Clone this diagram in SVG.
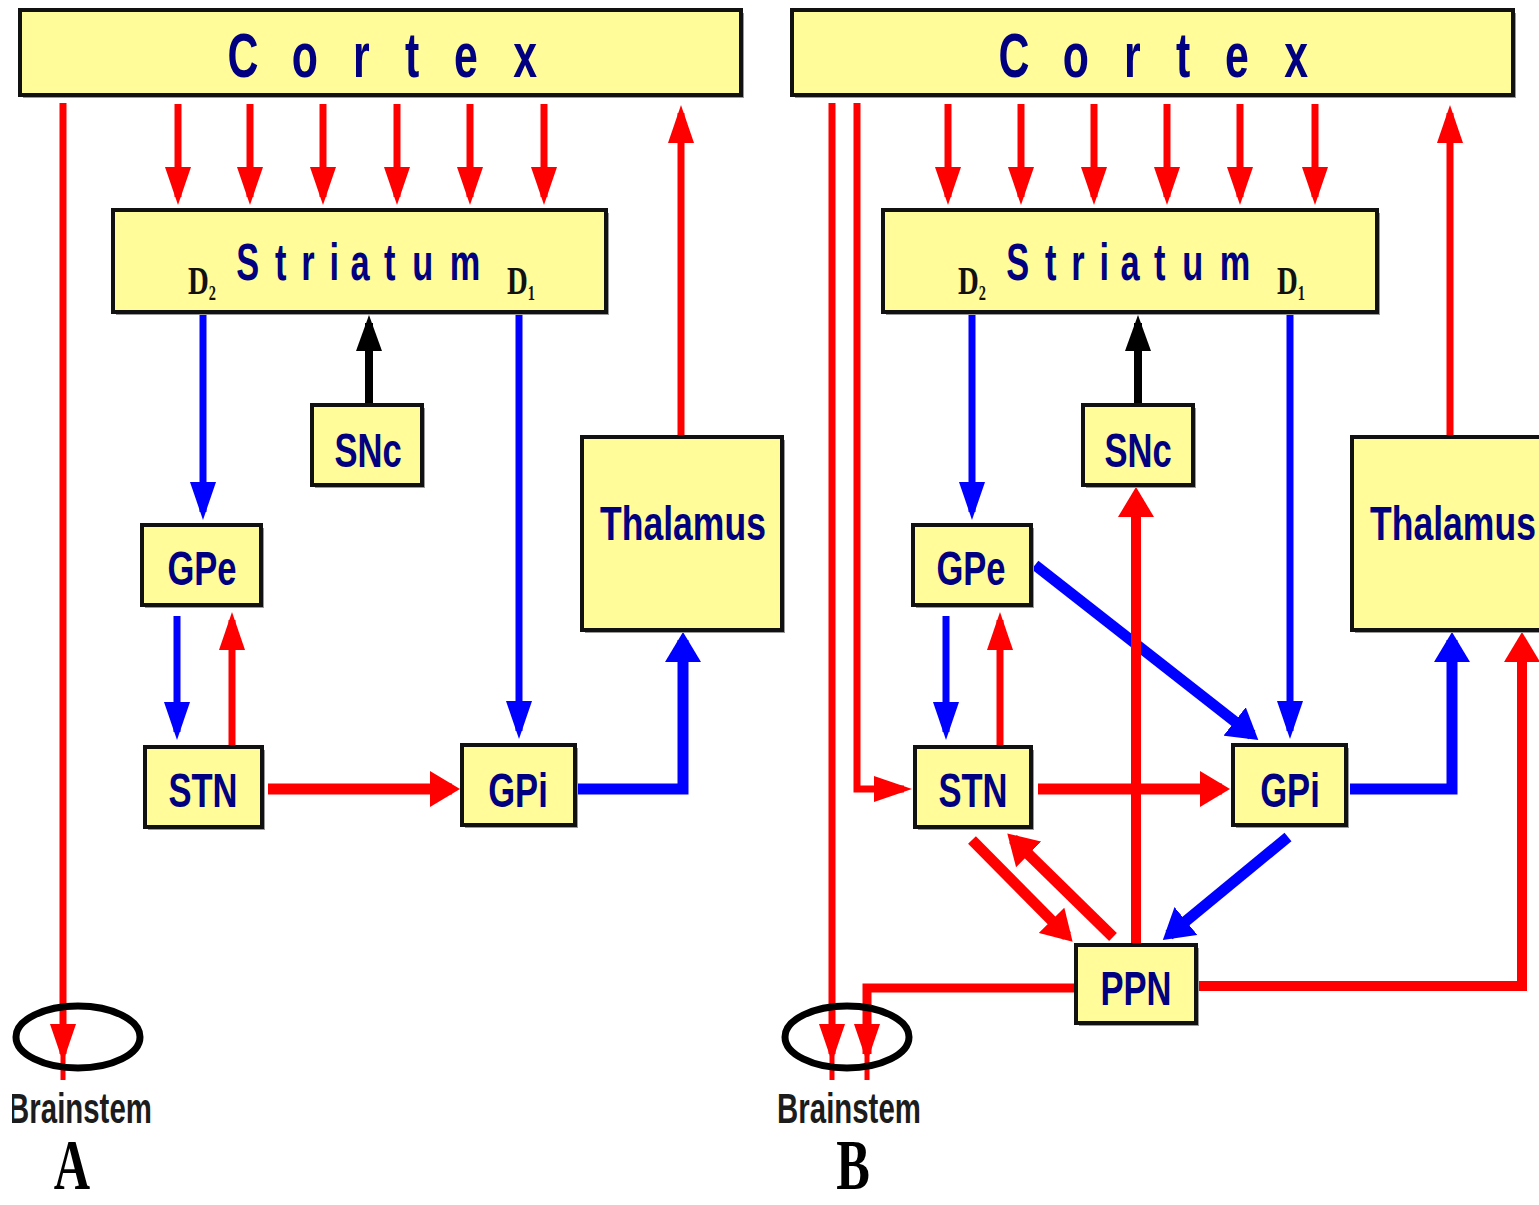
<svg xmlns="http://www.w3.org/2000/svg" width="1539" height="1205" viewBox="0 0 1539 1205">
<style>
.box{fill:#FFFC99;stroke:#111;stroke-width:4}
.sh{fill:#9a9a9a}
.lbl{font-family:"Liberation Sans",Arial,sans-serif;font-weight:bold;fill:#000080;text-anchor:middle}
.d{font-family:"Liberation Serif","Times New Roman",serif;font-weight:bold;fill:#111;font-size:40px}
.bs{font-family:"Liberation Sans",Arial,sans-serif;font-weight:bold;fill:#1c1c1c;text-anchor:middle;font-size:42px}
.pl{font-family:"Liberation Serif","Times New Roman",serif;font-weight:bold;fill:#000;text-anchor:middle;font-size:72px}
.r{fill:none;stroke:#FF0000;stroke-width:7}
.rt{fill:none;stroke:#FF0000;stroke-width:11}
.b{fill:none;stroke:#0000FF;stroke-width:7}
.bt{fill:none;stroke:#0000FF;stroke-width:11}
.k{fill:none;stroke:#000;stroke-width:8}
.ell{fill:none;stroke:#000;stroke-width:7}
</style>
<defs>
<marker id="hr" viewBox="0 0 38 26" refX="30" refY="13" markerWidth="38" markerHeight="26" orient="auto" markerUnits="userSpaceOnUse"><path d="M0,0 L38,13 L0,26 z" fill="#FF0000"/></marker>
<marker id="hb" viewBox="0 0 38 26" refX="30" refY="13" markerWidth="38" markerHeight="26" orient="auto" markerUnits="userSpaceOnUse"><path d="M0,0 L38,13 L0,26 z" fill="#0000FF"/></marker>
<marker id="hk" viewBox="0 0 36 26" refX="28" refY="13" markerWidth="36" markerHeight="26" orient="auto" markerUnits="userSpaceOnUse"><path d="M0,0 L36,13 L0,26 z" fill="#000"/></marker>
<marker id="hR" viewBox="0 0 30 36" refX="22" refY="18" markerWidth="30" markerHeight="36" orient="auto" markerUnits="userSpaceOnUse"><path d="M0,0 L30,18 L0,36 z" fill="#FF0000"/></marker>
<marker id="hB" viewBox="0 0 30 36" refX="22" refY="18" markerWidth="30" markerHeight="36" orient="auto" markerUnits="userSpaceOnUse"><path d="M0,0 L30,18 L0,36 z" fill="#0000FF"/></marker>
<clipPath id="clipA"><rect x="12" y="1080" width="200" height="60"/></clipPath>
</defs>
<rect width="1539" height="1205" fill="#fff"/>

<g id="connectors">
<!-- Panel A -->
<path class="r" d="M178,104 V197" marker-end="url(#hr)"/>
<path class="r" d="M250,104 V197" marker-end="url(#hr)"/>
<path class="r" d="M323,104 V197" marker-end="url(#hr)"/>
<path class="r" d="M397,104 V197" marker-end="url(#hr)"/>
<path class="r" d="M470,104 V197" marker-end="url(#hr)"/>
<path class="r" d="M544,104 V197" marker-end="url(#hr)"/>
<path class="r" d="M681,436 V113" marker-end="url(#hr)"/>
<path class="r" d="M63,103 V1054" marker-end="url(#hr)"/>
<path class="r" d="M63,1050 V1080" style="stroke-width:5"/>
<path class="b" d="M203,314 V512" marker-end="url(#hb)"/>
<path class="k" d="M369,404 V323" marker-end="url(#hk)"/>
<path class="b" d="M519,314 V731" marker-end="url(#hb)"/>
<path class="b" d="M177,616 V732" marker-end="url(#hb)"/>
<path class="r" d="M232,746 V620" marker-end="url(#hr)"/>
<path class="rt" d="M268,789 H452" marker-end="url(#hR)"/>
<path class="bt" d="M578,789 H683 V640" marker-end="url(#hB)"/>
<!-- Panel B -->
<path class="r" d="M948,104 V197" marker-end="url(#hr)"/>
<path class="r" d="M1021,104 V197" marker-end="url(#hr)"/>
<path class="r" d="M1094,104 V197" marker-end="url(#hr)"/>
<path class="r" d="M1167,104 V197" marker-end="url(#hr)"/>
<path class="r" d="M1240,104 V197" marker-end="url(#hr)"/>
<path class="r" d="M1315,104 V197" marker-end="url(#hr)"/>
<path class="r" d="M1450,436 V113" marker-end="url(#hr)"/>
<path class="r" d="M832,103 V1054" marker-end="url(#hr)"/>
<path class="r" d="M832,1050 V1080" style="stroke-width:5"/>
<path class="r" d="M857,103 V789 H904" marker-end="url(#hr)"/>
<path class="b" d="M972,314 V512" marker-end="url(#hb)"/>
<path class="k" d="M1138,404 V323" marker-end="url(#hk)"/>
<path class="b" d="M1290,314 V731" marker-end="url(#hb)"/>
<path class="b" d="M946,616 V732" marker-end="url(#hb)"/>
<path class="r" d="M1000,746 V620" marker-end="url(#hr)"/>
<path class="bt" d="M1035,565 L1252,735" marker-end="url(#hB)"/>
<path class="rt" d="M1038,789 H1222" marker-end="url(#hR)"/>
<path class="bt" d="M1350,789 H1452 V640" marker-end="url(#hB)"/>
<path class="rt" d="M1136,944 V495" style="stroke-width:10" marker-end="url(#hR)"/>
<path class="rt" d="M972,840 L1067,936" marker-end="url(#hR)"/>
<path class="rt" d="M1113,937 L1013,839" marker-end="url(#hR)"/>
<path class="bt" d="M1288,837 L1169,935" marker-end="url(#hB)"/>
<path class="rt" d="M1197,986 H1522 V640" style="stroke-width:10" marker-end="url(#hR)"/>
<path class="rt" d="M1075,988 H867 V1054" style="stroke-width:9" marker-end="url(#hr)"/>
<path class="r" d="M867,1050 V1080" style="stroke-width:5"/>
</g>

<!-- Panel A nodes -->
<g id="cortexA">
<rect class="sh" x="23" y="13" width="721" height="85"/>
<rect class="box" x="20" y="10" width="721" height="85"/>
<text class="lbl" transform="translate(383,77) scale(0.68,1)" font-size="63" x="-206 -115 -32 43 122 209" y="0">Cortex</text>
</g>
<g id="striatumA">
<rect class="sh" x="116" y="213" width="493" height="102"/>
<rect class="box" x="113" y="210" width="493" height="102"/>
<text class="lbl" transform="translate(360,280) scale(0.66,1)" font-size="52" x="-170 -120 -79 -39 0 45 95 159" y="0">Striatum</text>
<text class="d" transform="translate(188,294) scale(0.72,1)">D<tspan font-size="20" dy="6">2</tspan></text>
<text class="d" transform="translate(507,294) scale(0.72,1)">D<tspan font-size="20" dy="6">1</tspan></text>
</g>
<g id="sncA">
<rect class="sh" x="315" y="408" width="110" height="80"/>
<rect class="box" x="312" y="405" width="110" height="80"/>
<text class="lbl" transform="translate(368,467) scale(0.72,1)" font-size="48">SNc</text>
</g>
<g id="thalamusA">
<rect class="sh" x="585" y="440" width="200" height="193"/>
<rect class="box" x="582" y="437" width="200" height="193"/>
<text class="lbl" transform="translate(683,540) scale(0.74,1)" font-size="48">Thalamus</text>
</g>
<g id="gpeA">
<rect class="sh" x="145" y="528" width="119" height="80"/>
<rect class="box" x="142" y="525" width="119" height="80"/>
<text class="lbl" transform="translate(202,585) scale(0.72,1)" font-size="48">GPe</text>
</g>
<g id="stnA">
<rect class="sh" x="148" y="750" width="117" height="80"/>
<rect class="box" x="145" y="747" width="117" height="80"/>
<text class="lbl" transform="translate(203,807) scale(0.72,1)" font-size="48">STN</text>
</g>
<g id="gpiA">
<rect class="sh" x="465" y="748" width="113" height="80"/>
<rect class="box" x="462" y="745" width="113" height="80"/>
<text class="lbl" transform="translate(518,807) scale(0.72,1)" font-size="48">GPi</text>
</g>
<g id="brainstemA">
<ellipse class="ell" cx="78" cy="1037" rx="62" ry="31"/>
<g clip-path="url(#clipA)">
<text class="bs" transform="translate(80,1123) scale(0.7,1)">Brainstem</text>
</g>
</g>
<g id="labelA">
<text class="pl" transform="translate(72,1189) scale(0.7,1)">A</text>
</g>

<!-- Panel B nodes -->
<g id="cortexB">
<rect class="sh" x="795" y="13" width="721" height="85"/>
<rect class="box" x="792" y="10" width="721" height="85"/>
<text class="lbl" transform="translate(1154,77) scale(0.68,1)" font-size="63" x="-206 -115 -32 43 122 209" y="0">Cortex</text>
</g>
<g id="striatumB">
<rect class="sh" x="886" y="213" width="494" height="102"/>
<rect class="box" x="883" y="210" width="494" height="102"/>
<text class="lbl" transform="translate(1130,280) scale(0.66,1)" font-size="52" x="-170 -120 -79 -39 0 45 95 159" y="0">Striatum</text>
<text class="d" transform="translate(958,294) scale(0.72,1)">D<tspan font-size="20" dy="6">2</tspan></text>
<text class="d" transform="translate(1277,294) scale(0.72,1)">D<tspan font-size="20" dy="6">1</tspan></text>
</g>
<g id="sncB">
<rect class="sh" x="1086" y="408" width="110" height="80"/>
<rect class="box" x="1083" y="405" width="110" height="80"/>
<text class="lbl" transform="translate(1138,467) scale(0.72,1)" font-size="48">SNc</text>
</g>
<g id="thalamusB">
<rect class="sh" x="1355" y="440" width="220" height="193"/>
<rect class="box" x="1352" y="437" width="220" height="193"/>
<text class="lbl" transform="translate(1453,540) scale(0.74,1)" font-size="48">Thalamus</text>
</g>
<g id="gpeB">
<rect class="sh" x="916" y="528" width="118" height="80"/>
<rect class="box" x="913" y="525" width="118" height="80"/>
<text class="lbl" transform="translate(971,585) scale(0.72,1)" font-size="48">GPe</text>
</g>
<g id="stnB">
<rect class="sh" x="918" y="750" width="116" height="80"/>
<rect class="box" x="915" y="747" width="116" height="80"/>
<text class="lbl" transform="translate(973,807) scale(0.72,1)" font-size="48">STN</text>
</g>
<g id="gpiB">
<rect class="sh" x="1236" y="748" width="113" height="80"/>
<rect class="box" x="1233" y="745" width="113" height="80"/>
<text class="lbl" transform="translate(1290,807) scale(0.72,1)" font-size="48">GPi</text>
</g>
<g id="ppnB">
<rect class="sh" x="1079" y="948" width="120" height="78"/>
<rect class="box" x="1076" y="945" width="120" height="78"/>
<text class="lbl" transform="translate(1136,1005) scale(0.72,1)" font-size="48">PPN</text>
</g>
<g id="brainstemB">
<ellipse class="ell" cx="847" cy="1037" rx="62" ry="31"/>
<text class="bs" transform="translate(849,1123) scale(0.7,1)">Brainstem</text>
</g>
<g id="labelB">
<text class="pl" transform="translate(853,1189) scale(0.7,1)">B</text>
</g>
</svg>
